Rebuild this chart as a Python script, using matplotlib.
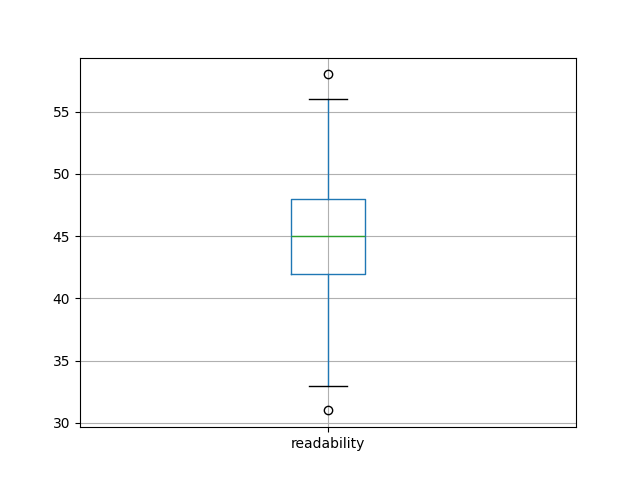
import matplotlib
matplotlib.use("Agg")
import matplotlib.pyplot as plt

labels = ["readability"]
q1 = [42]
med = [45]
q3 = [48]
whislo = [33]
whishi = [56]
fliers = [[31, 58]]

stats = []
for i, lab in enumerate(labels):
    stats.append(dict(label=lab, q1=q1[i], med=med[i], q3=q3[i],
                      whislo=whislo[i], whishi=whishi[i], fliers=fliers[i]))

fig, ax = plt.subplots(figsize=(6.4, 4.8), dpi=100)
ax.bxp(stats,
       boxprops=dict(color="#1f77b4"),
       whiskerprops=dict(color="#1f77b4"),
       capprops=dict(color="black"),
       medianprops=dict(color="#2ca02c"),
       flierprops=dict(marker="o", markeredgecolor="black", markerfacecolor="none"))
ax.grid(True)
fig.savefig("out.png")
